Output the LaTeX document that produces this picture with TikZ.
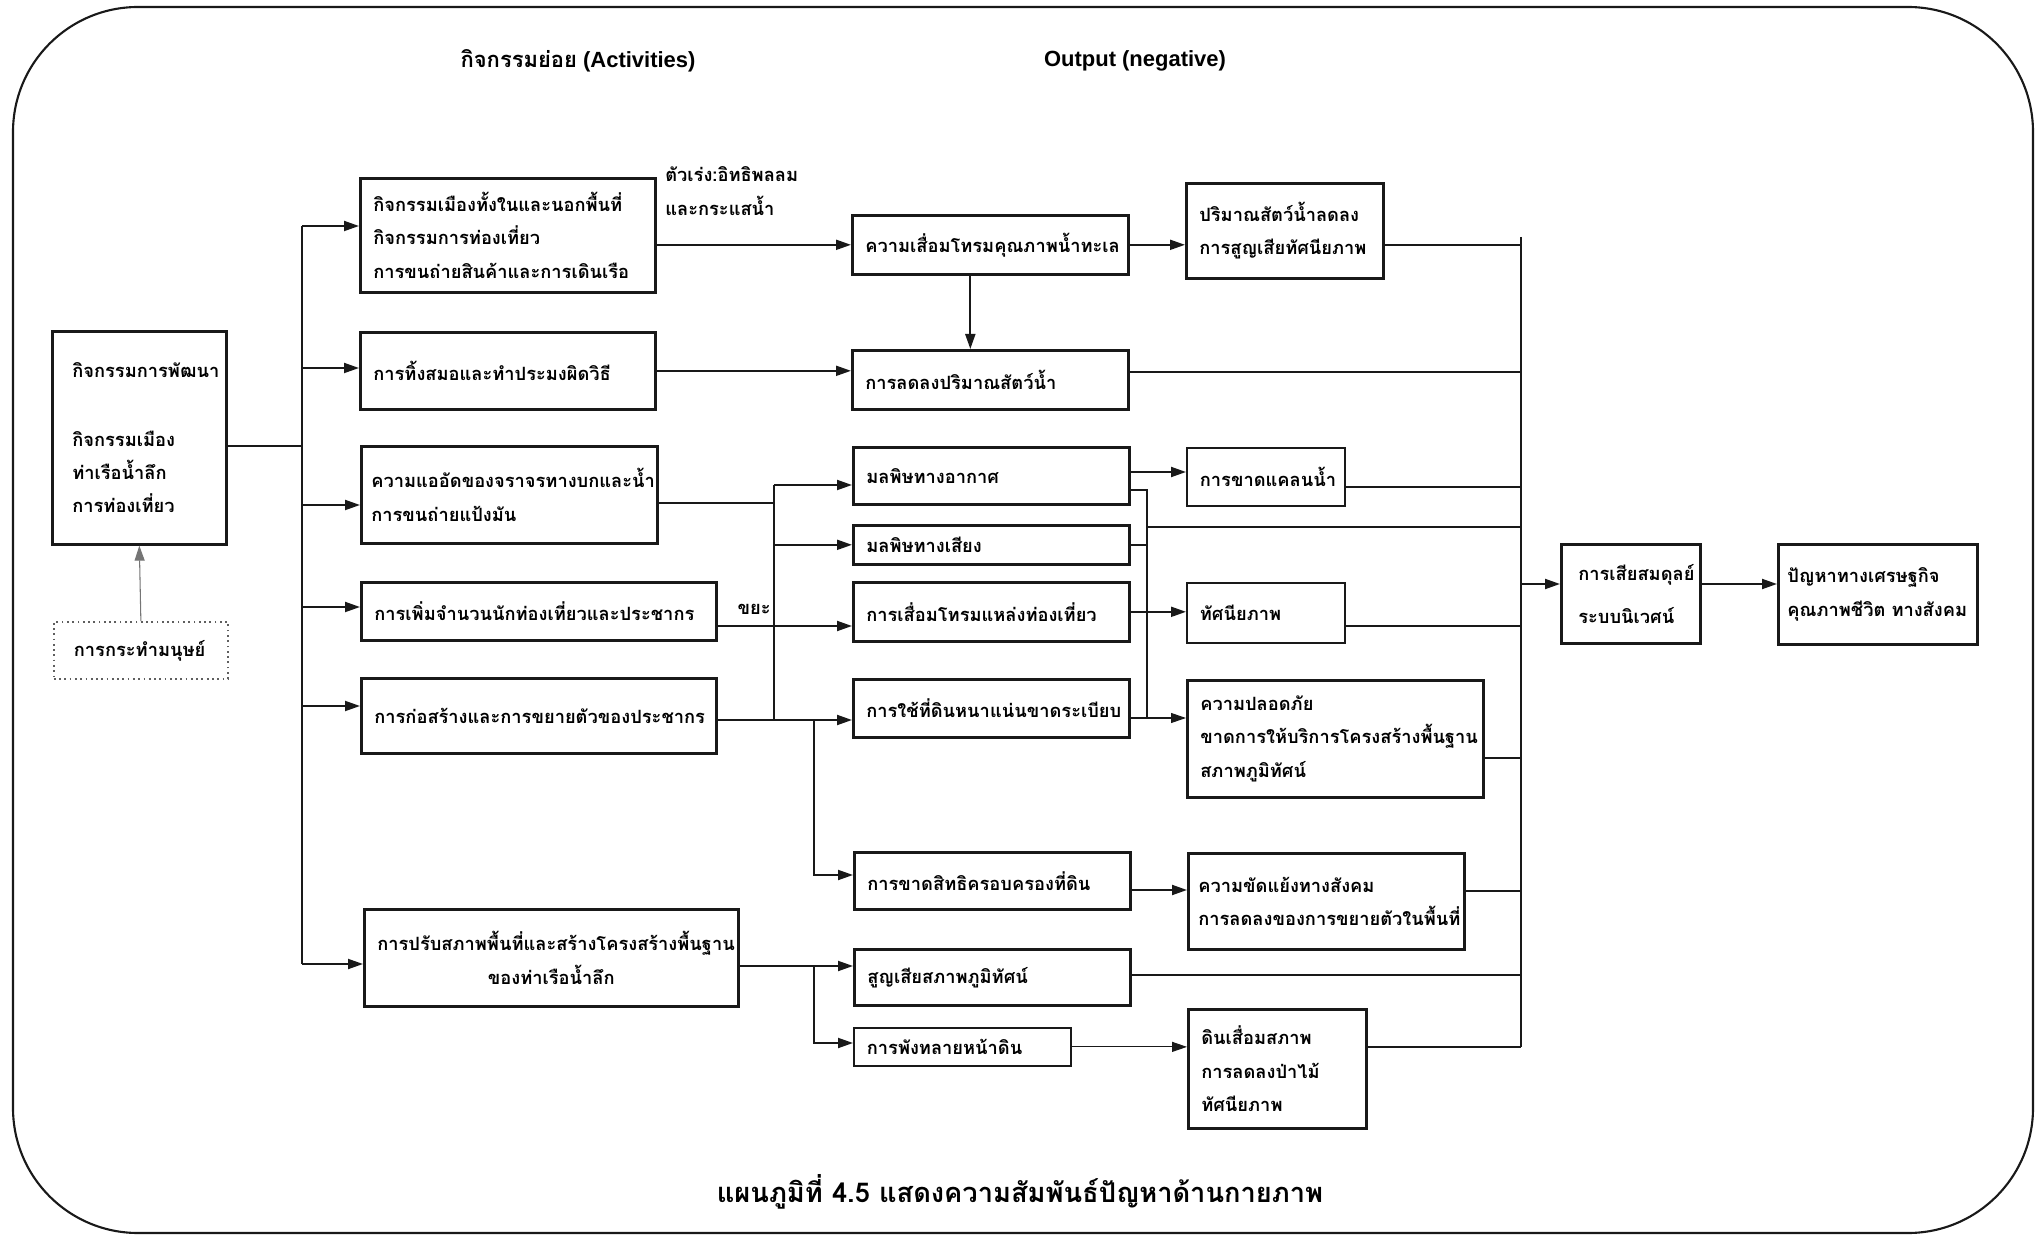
\documentclass[tikz,border=0pt]{standalone}
\usepackage{fontspec}
\usepackage{tikz}
\usetikzlibrary{arrows.meta,positioning}
\setmainfont{Liberation Sans}
\newfontfamily\thaifont[Script=Thai]{Loma}
\definecolor{lineblk}{RGB}{25,25,25}

\begin{document}
\begin{tikzpicture}[x=0.2mm, y=-0.2mm,
    box/.style={rectangle, draw=lineblk, line width=1.5pt, anchor=north west, align=left,
                inner xsep=2.6mm, inner ysep=0pt, font=\thaifont\bfseries\fontsize{10.4}{19}\selectfont},
    lbl/.style={inner sep=0pt, align=left, font=\thaifont\bfseries\fontsize{10.4}{19}\selectfont},
    hdr/.style={inner sep=0pt, font=\bfseries\fontsize{12.5}{14}\selectfont},
    arr/.style={-{Triangle[length=3mm, width=2mm]}, lineblk, line width=1.1pt},
    ln/.style={lineblk, line width=1.1pt},
    thinln/.style={lineblk, line width=0.6pt}]
\useasboundingbox (0,0) rectangle (2040,1239);
\draw[lineblk, line width=1.2pt, rounded corners=25mm] (13,7) rectangle (2033,1233);

\node[hdr] (hact) at (578,61) {{\thaifont กิจกรรมย่อย} (Activities)};
\node[hdr] (hout) at (1135,61) {Output (negative)};

\node[box, inner xsep=4mm, text width=26.8mm, minimum height=42.6mm] (main) at (51,330)
    {กิจกรรมการพัฒนา\\[7mm]กิจกรรมเมือง\\ท่าเรือน้ำลึก\\การท่องเที่ยว};
\node[box, draw=lineblk!70, line width=1pt, dotted, inner xsep=4mm, text width=26.8mm, minimum height=11.4mm] (act) at (53,621)
    {การกระทำมนุษย์};

\node[box, text width=53.8mm, minimum height=22.8mm] (a1) at (359,177)
    {กิจกรรมเมืองทั้งในและนอกพื้นที่\\กิจกรรมการท่องเที่ยว\\การขนถ่ายสินค้าและการเดินเรือ};
\node[box, text width=53.8mm, minimum height=15.4mm] (a2) at (359,331) {การทิ้งสมอและทำประมงผิดวิธี};
\node[box, inner xsep=2mm, text width=55.2mm, minimum height=19.4mm] (a3) at (360,445)
    {ความแออัดของจราจรทางบกและน้ำ\\การขนถ่ายแป้งมัน};
\node[box, text width=65.8mm, minimum height=11.6mm] (a4) at (360,581) {การเพิ่มจำนวนนักท่องเที่ยวและประชากร};
\node[box, text width=65.8mm, minimum height=15mm] (a5) at (360,677) {การก่อสร้างและการขยายตัวของประชากร};
\node[box, align=center, text width=69.6mm, minimum height=19.4mm] (a6) at (363,908)
    {การปรับสภาพพื้นที่และสร้างโครงสร้างพื้นฐาน\\ของท่าเรือน้ำลึก};

\node[lbl, anchor=west] (drv) at (665,191) {ตัวเร่ง:อิทธิพลลม\\และกระแสน้ำ};
\node[lbl, anchor=east] (waste) at (771,609) {ขยะ};

\node[box, text width=50mm, minimum height=11.8mm] (o1) at (851,214) {ความเสื่อมโทรมคุณภาพน้ำทะเล};
\node[box, text width=50mm, minimum height=11.8mm] (o2) at (851,349) {การลดลงปริมาณสัตว์น้ำ};
\node[box, text width=50mm, minimum height=11.4mm] (o3) at (852,446) {มลพิษทางอากาศ};
\node[box, text width=50mm, minimum height=7.8mm] (o4) at (852,524) {มลพิษทางเสียง};
\node[box, text width=50mm, minimum height=11.8mm] (o5) at (852,581) {การเสื่อมโทรมแหล่งท่องเที่ยว};
\node[box, text width=50mm, minimum height=11.6mm] (o6) at (852,678) {การใช้ที่ดินหนาแน่นขาดระเบียบ};
\node[box, text width=50mm, minimum height=11.4mm] (o7) at (853,851) {การขาดสิทธิครอบครองที่ดิน};
\node[box, text width=50mm, minimum height=11.2mm] (o8) at (853,948) {สูญเสียสภาพภูมิทัศน์};
\node[box, line width=1pt, text width=38.2mm, minimum height=7.6mm] (o9) at (853,1027) {การพังทลายหน้าดิน};

\node[box, text width=34.2mm, minimum height=19mm] (r1) at (1185,182) {ปริมาณสัตว์น้ำลดลง\\การสูญเสียทัศนียภาพ};
\node[box, line width=1pt, text width=26.4mm, minimum height=11.6mm] (r2) at (1186,447) {การขาดแคลนน้ำ};
\node[box, line width=1pt, text width=26.4mm, minimum height=12mm] (r3) at (1186,582) {ทัศนียภาพ};
\node[box, text width=54mm, minimum height=23.4mm] (r4) at (1186,679)
    {ความปลอดภัย\\ขาดการให้บริการโครงสร้างพื้นฐาน\\สภาพภูมิทัศน์};
\node[box, inner xsep=2mm, text width=51.2mm, minimum height=19.2mm] (r5) at (1187,852)
    {ความขัดแย้งทางสังคม\\การลดลงของการขยายตัวในพื้นที่};
\node[box, text width=30.4mm, minimum height=23.8mm] (r6) at (1187,1008) {ดินเสื่อมสภาพ\\การลดลงป่าไม้\\ทัศนียภาพ};

\node[box, inner xsep=3.4mm, text width=21mm, minimum height=19.8mm] (f1) at (1560,543) {การเสียสมดุลย์\\[2mm]ระบบนิเวศน์};
\node[box, inner xsep=1.8mm, text width=36.2mm, minimum height=20mm] (f2) at (1777,543) {ปัญหาทางเศรษฐกิจ\\คุณภาพชีวิต ทางสังคม};

\coordinate (bl) at (302,446);
\coordinate (b1) at (302,226);
\coordinate (b2) at (302,368);
\coordinate (b3) at (302,505);
\coordinate (b4) at (302,607);
\coordinate (b5) at (302,706);
\coordinate (b6) at (302,964);
\draw[arr, line width=0.6pt, lineblk!60] (act.north) -- (main.south);
\draw[ln] (main.east |- bl) -- (bl);
\draw[ln] (b1) -- (b6);
\draw[arr] (b1) -- (a1.west |- b1);
\draw[arr] (b2) -- (a2.west |- b2);
\draw[arr] (b3) -- (a3.west |- b3);
\draw[arr] (b4) -- (a4.west |- b4);
\draw[arr] (b5) -- (a5.west |- b5);
\draw[arr] (b6) -- (a6.west |- b6);

\draw[arr] (a1.east |- o1.west) -- (o1.west);
\draw[arr] (a2.east) -- (a2.east -| o2.west);
\draw[arr] ([xshift=-4mm]o1.south) -- ([xshift=-4mm]o2.north);
\draw[arr] (o1.east) -- (o1.east -| r1.west);

\coordinate (j1) at (774,503);
\coordinate (j1t) at (774,485);
\coordinate (j1b) at (774,720);
\coordinate (y4) at (0,626);
\draw[ln] (a3.east |- j1) -- (j1);
\draw[ln] (j1t) -- (j1b);
\draw[arr] (j1t) -- (o3.west |- j1t);
\draw[arr] (j1 |- o4.west) -- (o4.west);
\draw[arr] (a4.east |- y4) -- (o5.west |- y4);
\draw[arr] (a5.east |- j1b) -- (o6.west |- j1b);
\coordinate (j2) at (814,720);
\coordinate (j2b) at (814,875);
\draw[arr] (j2) -- (j2b) -- (o7.west |- j2b);
\coordinate (j3) at (814,966);
\coordinate (j3b) at (814,1043);
\draw[arr] (a6.east |- j3) -- (o8.west |- j3);
\draw[arr] (j3) -- (j3b) -- (o9.west |- j3b);

\coordinate (rbt) at (1521,237);
\coordinate (rbb) at (1521,1047);
\coordinate (v1) at (1147,490);
\coordinate (v2) at (1147,718);
\coordinate (v3) at (1147,527);
\coordinate (y3) at (0,472);
\coordinate (y7) at (0,890);
\draw[arr] (o3.east |- y3) -- (r2.west |- y3);
\draw[ln] (o3.east |- v1) -- (v1) -- (v2);
\draw[ln] (o4.east) -- (o4.east -| v1);
\draw[arr] (o5.east) -- (o5.east -| r3.west);
\draw[arr, thinln] (o6.east |- v2) -- (r4.west |- v2);
\draw[arr] (o7.east |- y7) -- (r5.west |- y7);
\draw[arr, thinln] (o9.east) -- (o9.east -| r6.west);
\draw[ln] (v3) -- (v3 -| rbt);

\coordinate (q1) at (1521,245);
\coordinate (q2) at (1521,372);
\coordinate (q3) at (1521,487);
\coordinate (q4) at (1521,626);
\coordinate (q5) at (1521,758);
\coordinate (q6) at (1521,891);
\coordinate (q7) at (1521,975);
\coordinate (q0) at (1521,584);
\draw[thinln] (rbt) -- (rbb);
\draw[ln] (r1.east |- q1) -- (q1);
\draw[thinln] (o2.east |- q2) -- (q2);
\draw[ln] (r2.east |- q3) -- (q3);
\draw[ln] (r3.east |- q4) -- (q4);
\draw[ln] (r4.east |- q5) -- (q5);
\draw[ln] (r5.east |- q6) -- (q6);
\draw[ln] (o8.east |- q7) -- (q7);
\draw[ln] (r6.east |- rbb) -- (rbb);
\draw[arr] (q0) -- (f1.west |- q0);
\draw[arr] (f1.east |- q0) -- (f2.west |- q0);

\node[inner sep=0pt, font=\thaifont\bfseries\fontsize{15.5}{18}\selectfont] (cap) at (1020,1192)
    {แผนภูมิที่ 4.5 แสดงความสัมพันธ์ปัญหาด้านกายภาพ};
\end{tikzpicture}
\end{document}
